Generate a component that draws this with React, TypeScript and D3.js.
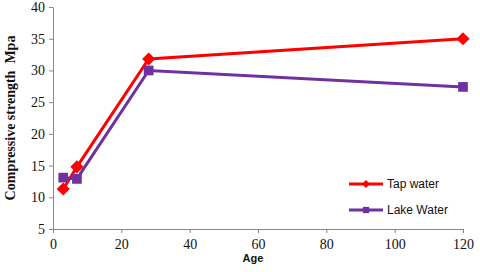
import React, { useEffect, useRef } from 'react';
import * as d3 from 'd3';

const ages = [3, 7, 28, 120];
const tapWater = [11.3, 14.8, 31.8, 35.0];
const lakeWater = [13.1, 12.9, 30.0, 27.4];
const xTicks = [0, 20, 40, 60, 80, 100, 120];
const yTicks = [5, 10, 15, 20, 25, 30, 35, 40];

const series = [
    { name: 'Tap water', values: tapWater, color: '#ff0000', marker: 'diamond' },
    { name: 'Lake Water', values: lakeWater, color: '#7030a0', marker: 'square' },
];

const App: React.FC = () => {
    const ref = useRef<SVGSVGElement | null>(null);

    useEffect(() => {
        if (!ref.current) return;
        const svg = d3.select(ref.current);
        svg.selectAll('*').remove();

        const width = 480;
        const height = 272;
        const margin = { top: 7, right: 17, bottom: 43, left: 53 };
        const innerWidth = width - margin.left - margin.right;
        const innerHeight = height - margin.top - margin.bottom;

        const x = d3.scaleLinear().domain([0, 120]).range([0, innerWidth]);
        const y = d3.scaleLinear().domain([5, 40]).range([innerHeight, 0]);

        svg.append('rect').attr('width', width).attr('height', height).attr('fill', '#fff');

        const g = svg.append('g').attr('transform', `translate(${margin.left},${margin.top})`);

        const xAxis = g.append('g')
            .attr('transform', `translate(0,${innerHeight})`)
            .call(d3.axisBottom(x).tickValues(xTicks).tickSize(4).tickSizeOuter(0));
        const yAxis = g.append('g')
            .call(d3.axisLeft(y).tickValues(yTicks).tickSize(4).tickSizeOuter(0));

        [xAxis, yAxis].forEach((a) => {
            a.select('.domain').attr('stroke', '#888').attr('stroke-width', 1);
            a.selectAll('.tick line').attr('stroke', '#888');
            a.selectAll('.tick text')
                .attr('fill', '#111')
                .style('font-family', '"Liberation Serif", "Times New Roman", serif')
                .style('font-size', '14px');
        });
        xAxis.selectAll('.tick text').attr('dy', '0.71em').attr('y', 10);
        yAxis.selectAll('.tick text').attr('x', -8);

        const line = d3.line<number>()
            .x((_, i) => x(ages[i]))
            .y((d) => y(d));

        series.forEach((s) => {
            g.append('path')
                .datum(s.values)
                .attr('fill', 'none')
                .attr('stroke', s.color)
                .attr('stroke-width', 3)
                .attr('d', line);

            const sym = s.marker === 'diamond'
                ? d3.symbol().type(d3.symbolDiamond2).size(110)
                : d3.symbol().type(d3.symbolSquare2).size(120);
            g.selectAll(null)
                .data(s.values)
                .enter()
                .append('path')
                .attr('d', sym)
                .attr('fill', s.color)
                .attr('transform', (d, i) => `translate(${x(ages[i])},${y(d)})`);
        });

        // legend
        const legend = g.append('g').attr('transform', `translate(${296},${177})`);
        series.forEach((s, i) => {
            const row = legend.append('g').attr('transform', `translate(0,${i * 26})`);
            row.append('line')
                .attr('x1', 0).attr('x2', 34)
                .attr('stroke', s.color).attr('stroke-width', 3);
            const sym = s.marker === 'diamond'
                ? d3.symbol().type(d3.symbolDiamond2).size(40)
                : d3.symbol().type(d3.symbolSquare2).size(50);
            row.append('path').attr('d', sym).attr('fill', s.color).attr('transform', 'translate(17,0)');
            row.append('text')
                .attr('x', 38).attr('dy', '0.35em')
                .style('font-family', '"Liberation Sans", Arial, sans-serif')
                .style('font-size', '12px')
                .attr('fill', '#111')
                .text(s.name);
        });

        g.append('text')
            .attr('x', innerWidth / 2 - 5)
            .attr('y', innerHeight + 33)
            .attr('text-anchor', 'middle')
            .style('font-family', '"Liberation Sans", Arial, sans-serif')
            .style('font-size', '11px')
            .style('font-weight', 'bold')
            .attr('fill', '#111')
            .text('Age');

        g.append('text')
            .attr('transform', `translate(${-38},${innerHeight / 2}) rotate(-90)`)
            .attr('text-anchor', 'middle')
            .style('font-family', '"Liberation Serif", "Times New Roman", serif')
            .style('font-size', '14px')
            .style('font-weight', 'bold')
            .style('white-space', 'pre')
            .attr('fill', '#111')
            .text('Compressive strength  Mpa');
    }, []);

    return (
        <svg ref={ref} width={480} height={272} style={{ position: 'absolute', left: 0, top: 0 }} />
    );
};

export default App;
